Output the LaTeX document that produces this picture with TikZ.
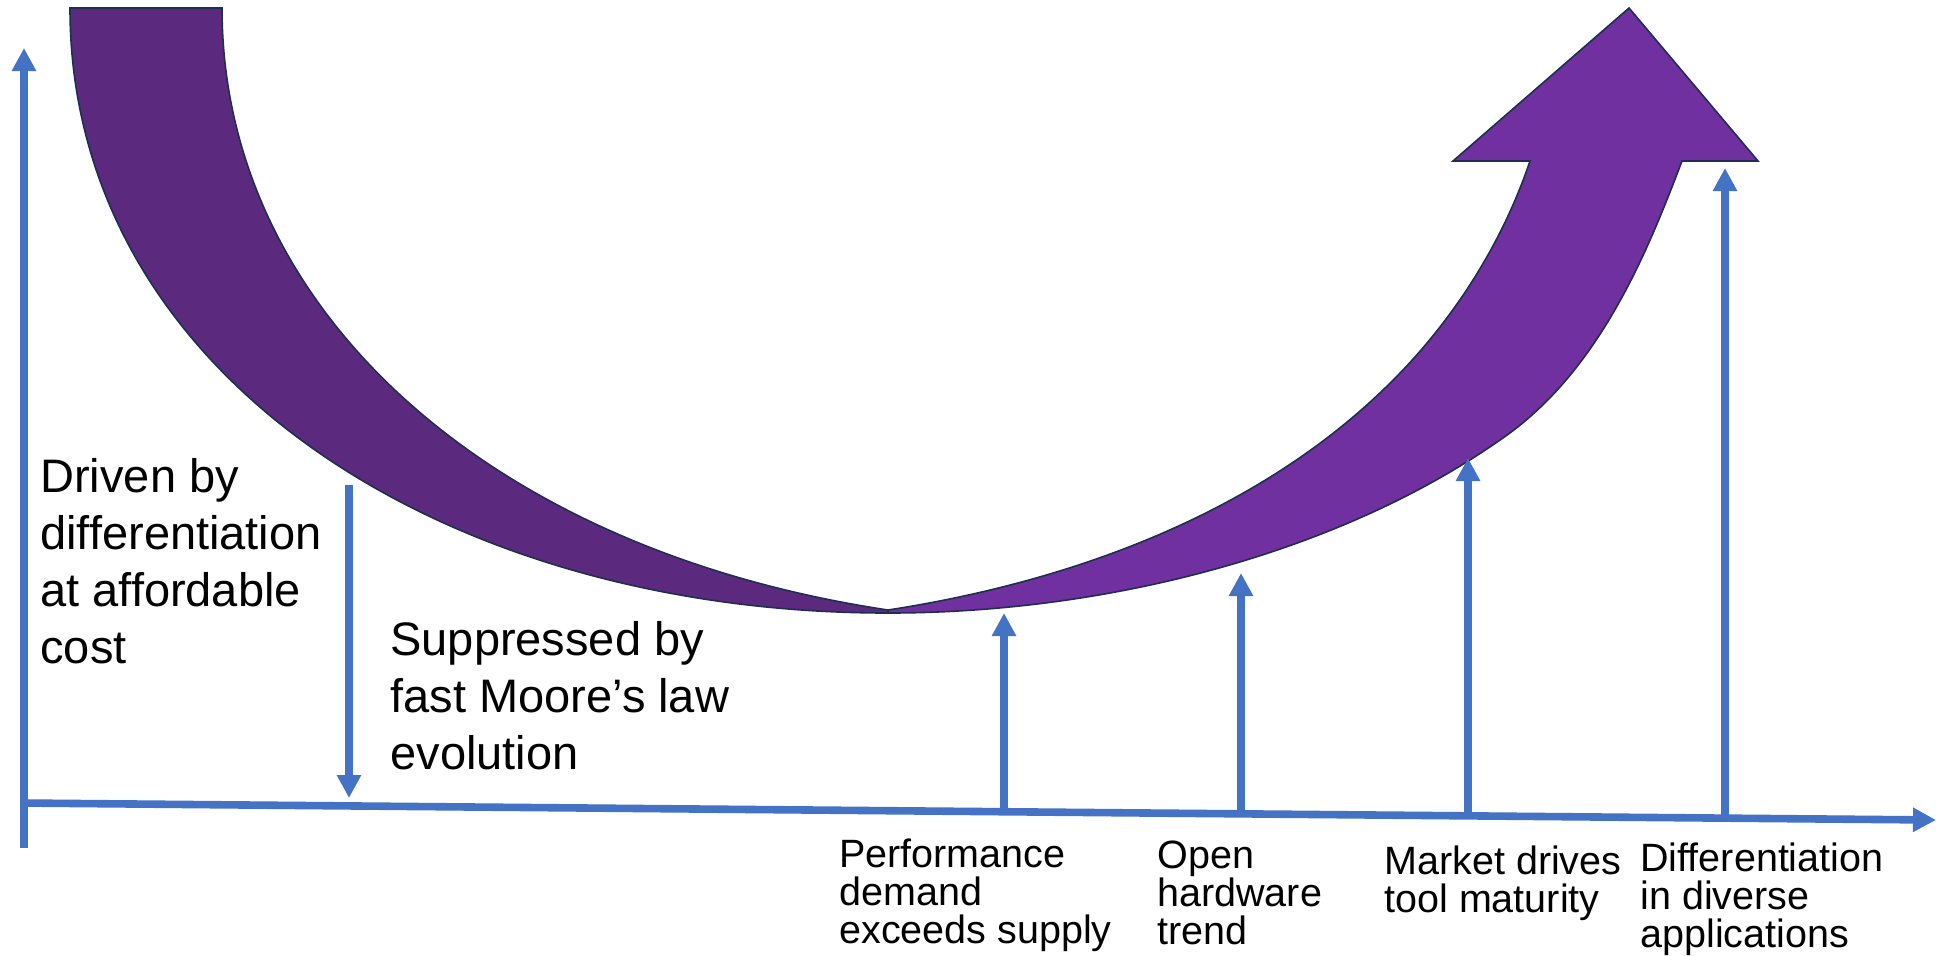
\documentclass[tikz,border=0pt]{standalone}
\usepackage{fontspec}
\setmainfont{Liberation Sans}
\usepackage{tikz}
\usetikzlibrary{arrows.meta}

\definecolor{axisblue}{HTML}{4472C4}
\definecolor{plumdark}{HTML}{5B2A7E}
\definecolor{plum}{HTML}{7030A0}
\definecolor{rim}{HTML}{1F2F50}

\begin{document}
\begin{tikzpicture}[x=0.5pt,y=-0.5pt,
        force/.style={-{Triangle[length=11.5pt,width=11.5pt]},draw=axisblue,line width=3.8pt},
        band/.style={draw=rim,line width=0.8pt,line join=miter},
        bigtext/.style={anchor=north west,inner sep=0pt,align=left,font=\fontsize{23.5}{28.5}\selectfont},
        tag/.style={anchor=north west,inner sep=0pt,align=left,font=\fontsize{19.75}{19.2}\selectfont}]

        \useasboundingbox (0,0) rectangle (1936,955);

        % axes and force arrows
        \coordinate (yb) at (24,848);
        \coordinate (yt) at (24,48);
        \coordinate (xs) at (21,803);
        \coordinate (xe) at (1936,820);
        \coordinate (d1) at (349,485);
        \coordinate (d2) at (349,798);
        \coordinate (p1) at (1004,812);
        \coordinate (p2) at (1004,613);
        \coordinate (h1) at (1241,814);
        \coordinate (h2) at (1241,573);
        \coordinate (m1) at (1468,816);
        \coordinate (m2) at (1468,458);
        \coordinate (a1) at (1725,818);
        \coordinate (a2) at (1725,168);

        % the bend: falling part, then rising arrow
        \filldraw[band,fill=plum] (888,610)
          .. controls (1070,582) and (1253,515) .. (1383,390)
          .. controls (1449,327) and (1501,247) .. (1530,161)
          -- (1453,161) -- (1629,8) -- (1758,161) -- (1682,161)
          .. controls (1648,250) and (1600,372) .. (1500,440)
          .. controls (1340,552) and (1110,613) .. (888,613) -- cycle;
        \filldraw[band,fill=plumdark] (70,8) -- (222,8)
          .. controls (222,309) and (488,550) .. (888,610)
          -- (888,613)
          .. controls (438,613) and (70,371) .. (70,8) -- cycle;

        \draw[force] (yb) -- (yt);
        \draw[force] (xs) -- (xe);
        \draw[force] (d1) -- (d2);
        \draw[force] (p1) -- (p2);
        \draw[force] (h1) -- (h2);
        \draw[force] (m1) -- (m2);
        \draw[force] (a1) -- (a2);

        \node[bigtext] (driven) at (40,458) {Driven by\\differentiation\\at affordable\\cost};
        \node[bigtext] (moore)  at (390,621) {Suppressed by\\fast Moore’s law\\evolution};

        \node[tag] (perf)    at (839,838)  {Performance\\demand\\exceeds supply};
        \node[tag] (open)    at (1157,840) {Open\\hardware\\trend};
        \node[tag] (market)  at (1384,845) {Market drives\\tool maturity};
        \node[tag] (diverse) at (1640,842) {Differentiation\\in diverse\\applications};
\end{tikzpicture}
\end{document}
